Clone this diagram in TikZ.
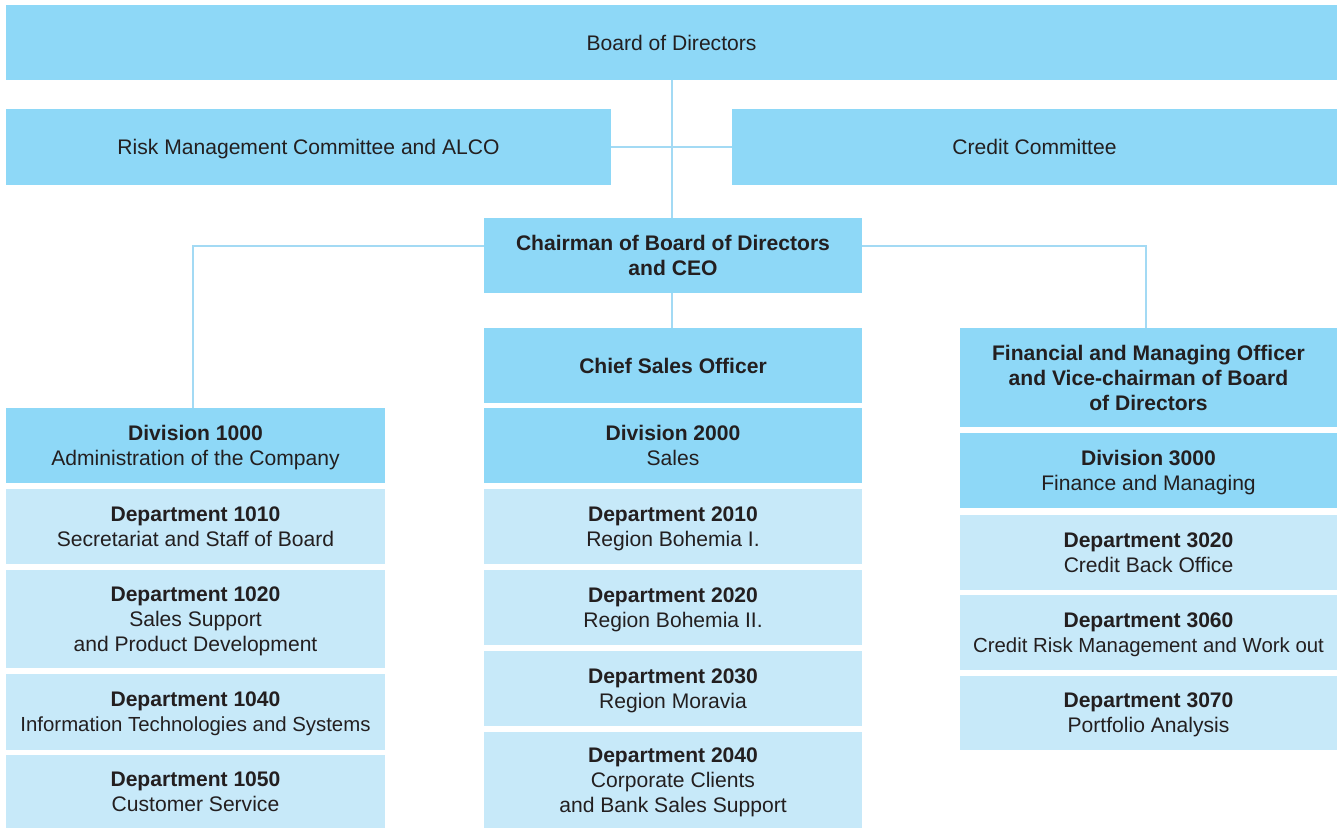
\documentclass[tikz,border=0pt]{standalone}
\usepackage{fontspec}
\setmainfont{Liberation Sans}
\definecolor{boxdark}{HTML}{8ED8F7}
\definecolor{boxlight}{HTML}{C7E9F9}
\definecolor{linkblue}{HTML}{A3DAF4}
\definecolor{textgray}{HTML}{231F20}

\tikzset{
  orgbox/.style={fill=boxdark, text=textgray, inner sep=0pt, align=center, text depth=0pt,
    font=\fontsize{12}{14.2}\selectfont, minimum width=7.56cm, minimum height=1.5cm},
  deptbox/.style={orgbox, fill=boxlight},
  link/.style={draw=linkblue, line width=1.1pt}
}
\newcommand{\narrowline}[1]{{\fontsize{11.6}{14.2}\selectfont #1}}

\begin{document}
\begin{tikzpicture}[x=0.02cm, y=-0.02cm]

\useasboundingbox (0,0) rectangle (1343,828);

% top level
\node [orgbox, minimum width=26.62cm] (board) at (671.5,42.5) {Board of Directors};
\node [orgbox, minimum width=12.1cm, minimum height=1.52cm] (risk) at (308.5,147) {Risk Management Committee and ALCO};
\node [orgbox, minimum width=12.1cm, minimum height=1.52cm] (credit) at (1034.5,147) {Credit Committee};
\node [orgbox] (chair) at (673,255.5) {\textbf{Chairman of Board of Directors}\\\textbf{and CEO}};

% officers
\node [orgbox] (sales) at (673,365.5) {\textbf{Chief Sales Officer}};
\node [orgbox, minimum width=7.54cm, minimum height=1.98cm] (fin) at (1148.5,377.5) {\textbf{Financial and Managing Officer}\\\textbf{and Vice-chairman of Board}\\\textbf{of Directors}};

% division 1000
\node [orgbox, minimum width=7.58cm] (div1000) at (195.5,445.5) {\textbf{Division 1000}\\Administration of the Company};
\node [deptbox, minimum width=7.58cm] (dep1010) at (195.5,526.5) {\textbf{Department 1010}\\Secretariat and Staff of Board};
\node [deptbox, minimum width=7.58cm, minimum height=1.96cm] (dep1020) at (195.5,619) {\textbf{Department 1020}\\Sales Support\\and Product Development};
\node [deptbox, minimum width=7.58cm, minimum height=1.52cm] (dep1040) at (195.5,712) {\textbf{Department 1040}\\\narrowline{Information Technologies and Systems}};
\node [deptbox, minimum width=7.58cm, minimum height=1.46cm] (dep1050) at (195.5,791.5) {\textbf{Department 1050}\\Customer Service};

% division 2000
\node [orgbox] (div2000) at (673,445.5) {\textbf{Division 2000}\\Sales};
\node [deptbox] (dep2010) at (673,526.5) {\textbf{Department 2010}\\Region Bohemia I.};
\node [deptbox] (dep2020) at (673,607.5) {\textbf{Department 2020}\\Region Bohemia II.};
\node [deptbox] (dep2030) at (673,688.5) {\textbf{Department 2030}\\Region Moravia};
\node [deptbox, minimum height=1.92cm] (dep2040) at (673,780) {\textbf{Department 2040}\\Corporate Clients\\and Bank Sales Support};

% division 3000
\node [orgbox, minimum width=7.54cm] (div3000) at (1148.5,470.5) {\textbf{Division 3000}\\Finance and Managing};
\node [deptbox, minimum width=7.54cm] (dep3020) at (1148.5,552.5) {\textbf{Department 3020}\\Credit Back Office};
\node [deptbox, minimum width=7.54cm] (dep3060) at (1148.5,632.5) {\textbf{Department 3060}\\\narrowline{Credit Risk Management and Work out}};
\node [deptbox, minimum width=7.54cm, minimum height=1.48cm] (dep3070) at (1148.5,713) {\textbf{Department 3070}\\Portfolio Analysis};

% connectors
\draw [link] (board.south -| 672,0) -- (chair.north -| 672,0);
\draw [link] (risk.east) -- (credit.west);
\draw [link] (chair.south -| 672,0) -- (sales.north -| 672,0);
\draw [link] ([yshift=0.19cm]chair.west) -| ([xshift=-0.05cm]div1000.north);
\draw [link] ([yshift=0.19cm]chair.east) -| ([xshift=-0.05cm]fin.north);

\end{tikzpicture}
\end{document}
